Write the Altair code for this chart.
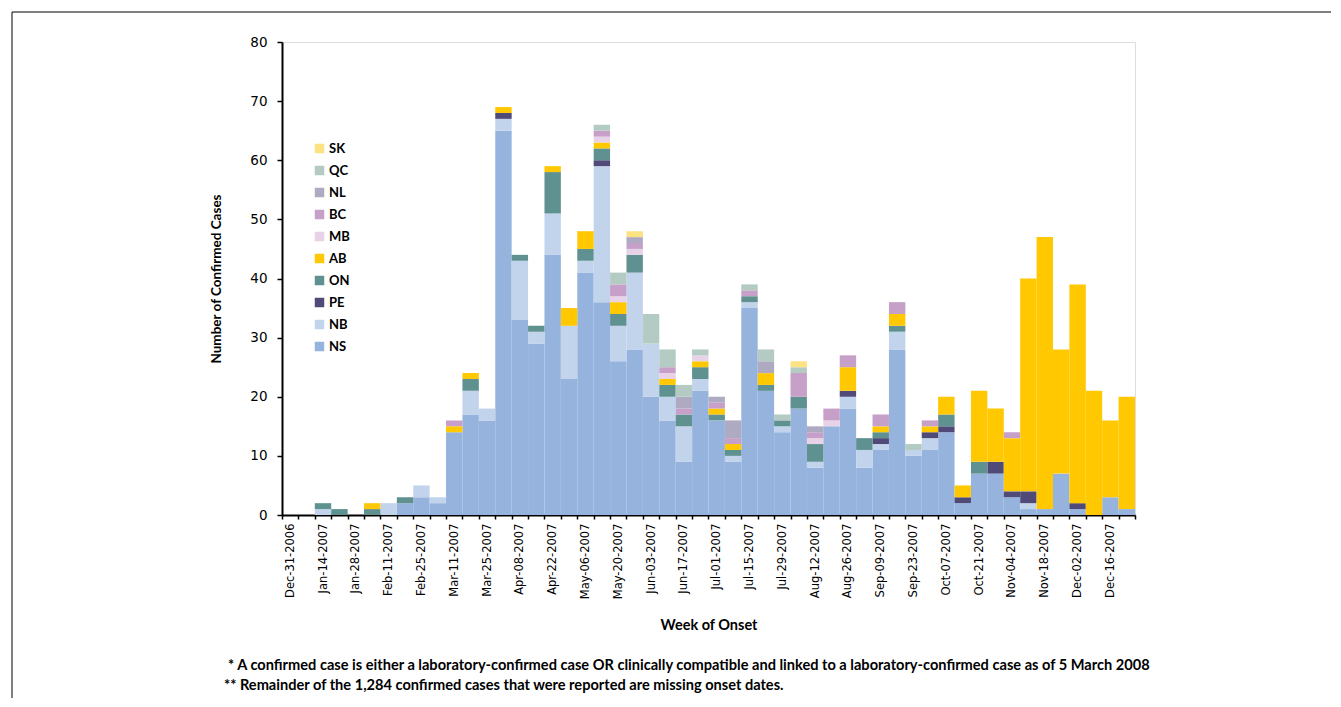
import altair as alt
import pandas as pd

weeks = [
    "Dec-31-2006", "Jan-07-2007", "Jan-14-2007", "Jan-21-2007", "Jan-28-2007", "Feb-04-2007",
    "Feb-11-2007", "Feb-18-2007", "Feb-25-2007", "Mar-04-2007", "Mar-11-2007", "Mar-18-2007",
    "Mar-25-2007", "Apr-01-2007", "Apr-08-2007", "Apr-15-2007", "Apr-22-2007", "Apr-29-2007",
    "May-06-2007", "May-13-2007", "May-20-2007", "May-27-2007", "Jun-03-2007", "Jun-10-2007",
    "Jun-17-2007", "Jun-24-2007", "Jul-01-2007", "Jul-08-2007", "Jul-15-2007", "Jul-22-2007",
    "Jul-29-2007", "Aug-05-2007", "Aug-12-2007", "Aug-19-2007", "Aug-26-2007", "Sep-02-2007",
    "Sep-09-2007", "Sep-16-2007", "Sep-23-2007", "Sep-30-2007", "Oct-07-2007", "Oct-14-2007",
    "Oct-21-2007", "Oct-28-2007", "Nov-04-2007", "Nov-11-2007", "Nov-18-2007", "Nov-25-2007",
    "Dec-02-2007", "Dec-09-2007", "Dec-16-2007", "Dec-23-2007",
]
shown_labels = weeks[::2]

# values per week (52 weeks)
NS = [0, 0, 0, 0, 0, 0, 0, 2, 3, 2, 14, 17, 16, 65, 33, 29, 44, 23, 41, 36, 26, 28, 20, 16, 9, 21,
      16, 9, 35, 21, 14, 18, 8, 15, 18, 8, 11, 28, 10, 11, 14, 2, 7, 7, 3, 1, 1, 7, 1, 0, 3, 1]
NB = [0, 0, 1, 0, 0, 0, 2, 0, 2, 1, 0, 4, 2, 2, 10, 2, 7, 9, 2, 23, 6, 13, 9, 4, 6, 2,
      0, 1, 1, 0, 1, 0, 1, 0, 2, 3, 1, 3, 1, 2, 0, 0, 0, 0, 0, 1, 0, 0, 0, 0, 0, 0]
PE = [0, 0, 0, 0, 0, 0, 0, 0, 0, 0, 0, 0, 0, 1, 0, 0, 0, 0, 0, 1, 0, 0, 0, 0, 0, 0,
      0, 0, 0, 0, 0, 0, 0, 0, 1, 0, 1, 0, 0, 1, 1, 1, 0, 2, 1, 2, 0, 0, 1, 0, 0, 0]
ON = [0, 0, 1, 1, 0, 1, 0, 1, 0, 0, 0, 2, 0, 0, 1, 1, 7, 0, 2, 2, 2, 3, 0, 2, 2, 2,
      1, 1, 1, 1, 1, 2, 3, 0, 0, 2, 1, 1, 0, 0, 2, 0, 2, 0, 0, 0, 0, 0, 0, 0, 0, 0]
AB = [0, 0, 0, 0, 0, 1, 0, 0, 0, 0, 1, 1, 0, 1, 0, 0, 1, 3, 3, 1, 2, 0, 0, 1, 0, 1,
      1, 1, 0, 2, 0, 0, 0, 0, 4, 0, 1, 2, 0, 1, 3, 2, 12, 9, 9, 36, 46, 21, 37, 21, 13, 19]
MB = [0, 0, 0, 0, 0, 0, 0, 0, 0, 0, 0, 0, 0, 0, 0, 0, 0, 0, 0, 1, 1, 1, 0, 1, 0, 1,
      0, 0, 0, 0, 0, 0, 1, 1, 0, 0, 0, 0, 0, 0, 0, 0, 0, 0, 0, 0, 0, 0, 0, 0, 0, 0]
BC = [0, 0, 0, 0, 0, 0, 0, 0, 0, 0, 1, 0, 0, 0, 0, 0, 0, 0, 0, 1, 2, 1, 0, 1, 1, 0,
      1, 1, 1, 0, 0, 4, 1, 2, 2, 0, 2, 2, 0, 1, 0, 0, 0, 0, 1, 0, 0, 0, 0, 0, 0, 0]
NL = [0, 0, 0, 0, 0, 0, 0, 0, 0, 0, 0, 0, 0, 0, 0, 0, 0, 0, 0, 0, 0, 1, 0, 0, 2, 0,
      1, 3, 0, 2, 0, 0, 1, 0, 0, 0, 0, 0, 0, 0, 0, 0, 0, 0, 0, 0, 0, 0, 0, 0, 0, 0]
QC = [0, 0, 0, 0, 0, 0, 0, 0, 0, 0, 0, 0, 0, 0, 0, 0, 0, 0, 0, 1, 2, 0, 5, 3, 2, 1,
      0, 0, 1, 2, 1, 1, 0, 0, 0, 0, 0, 0, 1, 0, 0, 0, 0, 0, 0, 0, 0, 0, 0, 0, 0, 0]
SK = [0, 0, 0, 0, 0, 0, 0, 0, 0, 0, 0, 0, 0, 0, 0, 0, 0, 0, 0, 0, 0, 1, 0, 0, 0, 0,
      0, 0, 0, 0, 0, 1, 0, 0, 0, 0, 0, 0, 0, 0, 0, 0, 0, 0, 0, 0, 0, 0, 0, 0, 0, 0]

provinces = ["NS", "NB", "PE", "ON", "AB", "MB", "BC", "NL", "QC", "SK"]  # stack order, bottom first
series = [NS, NB, PE, ON, AB, MB, BC, NL, QC, SK]
colors = ["#95b3dd", "#c2d3ec", "#4f4a78", "#5f9190", "#ffc800",
          "#e8d2e8", "#c6a0c8", "#aeaac2", "#b3cbc3", "#fde282"]

footnotes = [
    "* A confirmed case is either a laboratory-confirmed case OR clinically compatible and linked to a laboratory-confirmed case as of 5 March 2008",
    "** Remainder of the 1,284 confirmed cases that were reported are missing onset dates.",
]

rows = []
for k, (p, vals) in enumerate(zip(provinces, series)):
    for w, v in zip(weeks, vals):
        if v > 0:
            rows.append({"week": w, "province": p, "count": v, "order": k})
df = pd.DataFrame(rows)

legend_order = provinces[::-1]
legend_colors = colors[::-1]

keep_js = "[" + ",".join("'" + s + "'" for s in shown_labels) + "]"

FONT = "Lato"
TICKFONT = "DejaVu Sans"

bars = alt.Chart(df).mark_bar(stroke=None).encode(
    x=alt.X(
        "week:O",
        sort=weeks,
        scale=alt.Scale(domain=weeks, paddingInner=0, paddingOuter=0),
        axis=alt.Axis(
            title="Week of Onset",
            labelExpr=f"indexof({keep_js}, datum.value) >= 0 ? datum.value : ''",
            labelAngle=270,
            labelAlign="right",
            labelBaseline="middle",
            labelOverlap=False,
            labelFont=TICKFONT,
            labelFontSize=11.5,
            labelColor="black",
            labelPadding=4,
            tickBand="extent",
            tickSize=4,
            tickColor="black",
            tickWidth=1.5,
            domainColor="black",
            domainWidth=2,
            titleFont=FONT,
            titleFontSize=14.5,
            titleFontWeight="bold",
            titleColor="black",
            titlePadding=20,
        ),
    ),
    y=alt.Y(
        "count:Q",
        stack="zero",
        scale=alt.Scale(domain=[0, 80], nice=False),
        axis=alt.Axis(
            title="Number of Confirmed Cases",
            values=list(range(0, 81, 10)),
            grid=False,
            tickSize=5,
            tickColor="black",
            tickWidth=1.5,
            domainColor="black",
            domainWidth=2,
            labelFont=TICKFONT,
            labelFontSize=13.5,
            labelColor="black",
            labelPadding=10,
            titleFont=FONT,
            titleFontSize=13.5,
            titleFontWeight="bold",
            titleColor="black",
            titlePadding=26,
        ),
    ),
    color=alt.Color(
        "province:N",
        scale=alt.Scale(domain=legend_order, range=legend_colors),
        legend=alt.Legend(
            title=None,
            orient="none",
            legendX=31,
            legendY=100,
            symbolType="square",
            symbolSize=90,
            symbolStrokeWidth=0,
            labelFont=FONT,
            labelFontSize=13,
            labelFontWeight="bold",
            labelColor="black",
            labelOffset=3,
            rowPadding=8,
            padding=0,
        ),
    ),
    order=alt.Order("order:Q", sort="ascending"),
)

notes_df = pd.DataFrame({"text": footnotes, "line": [0, 1]})
note1 = alt.Chart(notes_df[notes_df.line == 0]).mark_text(
    align="left", baseline="middle", font=FONT, fontSize=14.6, fontWeight="bold", color="black"
).encode(text="text:N", x=alt.value(-54), y=alt.value(624))
note2 = alt.Chart(notes_df[notes_df.line == 1]).mark_text(
    align="left", baseline="middle", font=FONT, fontSize=14.6, fontWeight="bold", color="black"
).encode(text="text:N", x=alt.value(-58), y=alt.value(644))

frame_top = alt.Chart(notes_df.head(1)).mark_rule(color="black", strokeWidth=1).encode(
    x=alt.value(-270), x2=alt.value(1070), y=alt.value(-30)
)
frame_left = alt.Chart(notes_df.head(1)).mark_rule(color="black", strokeWidth=1).encode(
    x=alt.value(-270), y=alt.value(-30), y2=alt.value(720)
)

chart = alt.layer(bars, note1, note2, frame_top, frame_left).properties(
    width=853,
    height=473,
    autosize=alt.AutoSizeParams(type="none"),
    padding={"left": 274, "top": 34, "right": 196, "bottom": 183},
).configure_view(
    stroke="black", strokeWidth=1
).configure(
    background="white"
)

chart.save("out.html", embed_options={"renderer": "svg", "actions": False})
